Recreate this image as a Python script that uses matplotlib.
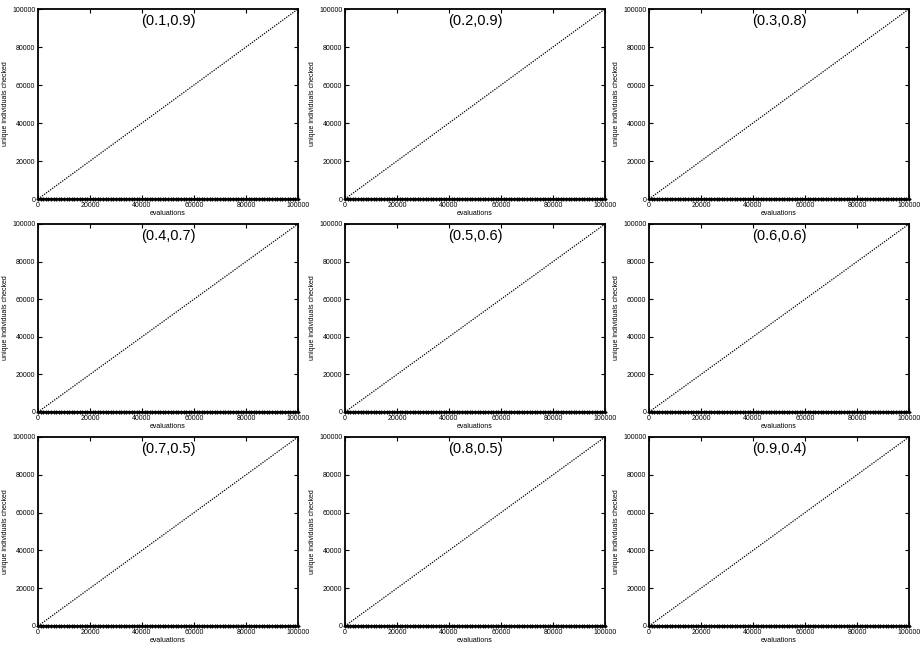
import numpy as np
import matplotlib.pyplot as plt

plt.rcParams['font.family'] = ['Liberation Sans', 'DejaVu Sans']

# panel titles (probability pairs)
titles = ["(0.1,0.9)", "(0.2,0.9)", "(0.3,0.8)",
          "(0.4,0.7)", "(0.5,0.6)", "(0.6,0.6)",
          "(0.7,0.5)", "(0.8,0.5)", "(0.9,0.4)"]

# sampled evaluations (x) every 1000
evaluations = np.arange(0, 100001, 1000)
# unique individuals checked: identical to evaluations in every panel
unique_checked = np.arange(0, 100001, 1000)
# duplicates found: stays at zero
duplicates = np.zeros(len(evaluations))

ticks = [0, 20000, 40000, 60000, 80000, 100000]

fig = plt.figure(figsize=(9.21, 6.46), dpi=100)

# axes boxes in pixels: columns left/right, rows top/bottom
cols = [(38, 298), (345, 605), (649, 909)]
rows = [(9, 199), (224, 412), (437, 626)]
W, H = 921, 646

for i, title in enumerate(titles):
    r, c = divmod(i, 3)
    x0, x1 = cols[c]
    y0, y1 = rows[r]
    ax = fig.add_axes([x0 / W, 1 - y1 / H, (x1 - x0) / W, (y1 - y0) / H])
    ax.plot(evaluations, unique_checked, color="black",
            linestyle=(0, (1, 1)), linewidth=0.9)
    ax.plot(evaluations, duplicates, color="black", linewidth=1.8,
            marker="+", markersize=2.5, markeredgewidth=0.9, clip_on=False)
    ax.set_xlim(0, 100000)
    ax.set_ylim(0, 100000)
    ax.set_xticks(ticks)
    ax.set_yticks(ticks)
    ax.tick_params(direction="in", top=True, right=True, length=3,
                   width=0.8, labelsize=5, pad=2)
    for sp in ax.spines.values():
        sp.set_linewidth(1.3)
    ax.set_xlabel("evaluations", fontsize=5, labelpad=1)
    ax.set_ylabel("unique individuals checked", fontsize=5, labelpad=2)
    ax.text(0.5, 0.975, title, transform=ax.transAxes, ha="center", va="top",
            fontsize=10.5)

fig.savefig("out.png", dpi=100)
